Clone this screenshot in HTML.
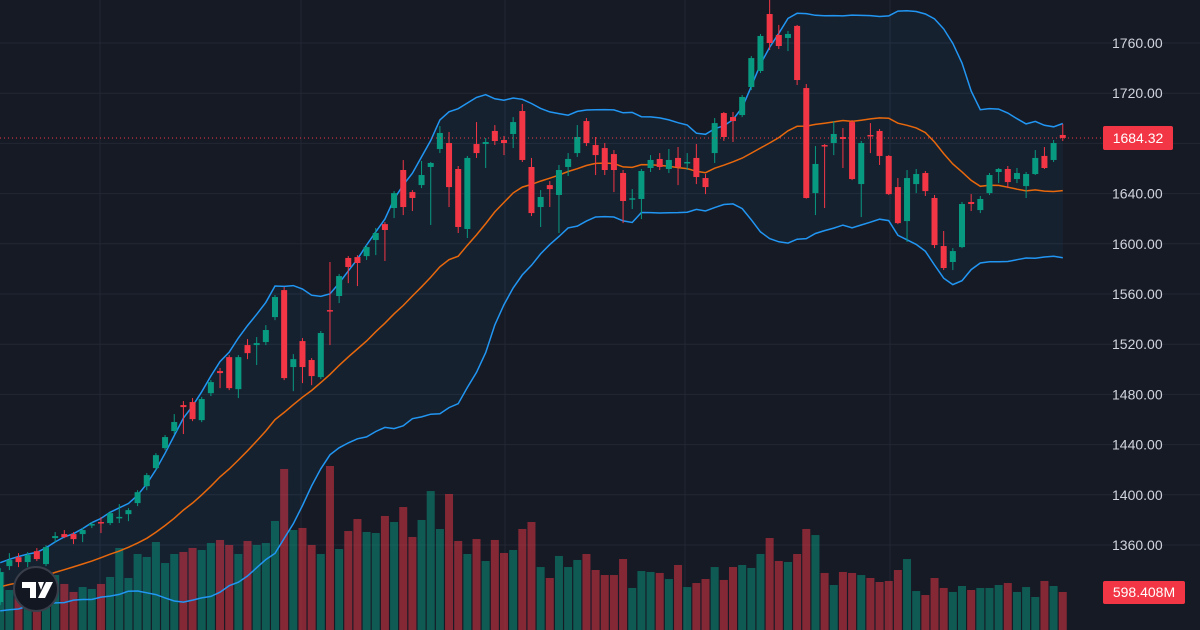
<!DOCTYPE html>
<html><head><meta charset="utf-8"><style>
html,body{margin:0;padding:0;background:#161a25;overflow:hidden}
svg{display:block;font-family:"Liberation Sans",sans-serif}
</style></head><body>
<svg id="chart" width="1200" height="630" viewBox="0 0 1200 630" xmlns="http://www.w3.org/2000/svg">
<rect width="1200" height="630" fill="#161a25"/>
<g id="grid"></g>
<g id="bands"></g>
<g id="vol"></g>
<g id="lines"></g>
<g id="candles"></g>
<g id="axis"></g>
<g>
<circle cx="36" cy="589" r="22" fill="#131722" stroke="#3a3e4a" stroke-width="2"/>
<path d="M22 582h14v16h-6v-10h-8z M38 582h6l-3 8z M46 582h7l-8 16h-7z" fill="#ffffff"/>
</g>
</svg>
<script>
const preCloses=[1312,1318,1309,1315,1321,1317,1323,1320,1326,1330,1324,1329,1333,1328,1335,1339,1334,1340,1343];
const opens=[1314.5,1343.2,1350.3,1346.4,1355.1,1344.8,1365.5,1368.7,1368.7,1368.7,1375.9,1378.3,1377.5,1381.6,1384.6,1393.4,1406.9,1421.3,1437.2,1450.8,1471.5,1473.9,1459.5,1481.0,1498.6,1509.7,1484.2,1519.3,1519.3,1521.7,1541.6,1563.1,1501.8,1522.5,1507.4,1493.8,1547.2,1558.4,1588.7,1589.4,1590.2,1603.0,1615.7,1628.5,1658.8,1641.2,1646.8,1661.2,1675.5,1680.3,1659.6,1611.8,1679.5,1679.5,1689.9,1682.7,1687.5,1705.8,1661.2,1629.3,1646.8,1638.9,1661.2,1672.3,1697.8,1678.7,1676.3,1671.5,1656.4,1635.7,1635.7,1660.4,1667.6,1659.6,1668.4,1664.7,1668.4,1652.4,1672.3,1704.2,1701.0,1702.6,1724.9,1737.7,1783.1,1766.4,1764.0,1773.6,1724.1,1640.4,1678.7,1680.3,1685.1,1697.0,1647.6,1686.7,1689.9,1670.0,1645.2,1618.1,1647.6,1656.4,1636.5,1598.2,1585.5,1597.4,1633.3,1626.9,1640.4,1657.2,1659.6,1651.6,1646.0,1655.6,1670.0,1666.8,1686.7];
const highs=[1341.6,1353.5,1353.5,1354.3,1357.5,1359.9,1370.3,1371.9,1370.3,1373.5,1378.3,1382.2,1387.0,1392.6,1389.4,1403.7,1417.3,1433.2,1447.6,1464.3,1474.7,1477.1,1477.9,1491.4,1501.0,1511.3,1511.3,1524.1,1525.7,1535.2,1559.2,1565.5,1512.1,1524.9,1508.9,1530.5,1585.5,1575.9,1590.2,1591.0,1599.0,1612.6,1617.3,1642.0,1666.7,1642.8,1666.0,1665.2,1693.8,1689.1,1662.0,1670.0,1697.0,1684.3,1694.6,1685.9,1701.0,1711.4,1668.4,1642.8,1650.0,1662.8,1672.3,1694.6,1700.2,1685.1,1680.3,1674.7,1658.8,1643.6,1659.6,1670.7,1672.3,1675.5,1677.1,1672.3,1679.5,1655.6,1700.2,1705.0,1705.0,1718.6,1749.6,1767.2,1794.3,1774.4,1769.6,1774.4,1727.3,1677.9,1679.5,1697.8,1692.2,1698.6,1681.9,1696.2,1691.5,1670.7,1652.4,1658.8,1659.6,1658.0,1638.9,1610.2,1596.6,1633.3,1639.6,1638.1,1656.4,1660.4,1662.0,1660.4,1657.2,1674.7,1677.1,1682.7,1695.4];
const lows=[1312.1,1340.0,1342.4,1342.4,1347.2,1343.2,1362.3,1365.5,1360.7,1362.3,1373.5,1369.5,1375.9,1377.5,1379.0,1391.0,1403.7,1419.7,1435.6,1448.4,1448.4,1458.7,1457.9,1478.7,1485.0,1483.4,1477.1,1508.1,1503.4,1519.3,1539.2,1491.4,1482.6,1489.0,1487.4,1492.2,1519.3,1552.8,1568.7,1566.3,1587.1,1591.0,1586.3,1620.5,1622.9,1626.1,1644.4,1615.0,1672.3,1629.3,1608.6,1604.6,1668.4,1660.4,1678.7,1670.7,1676.3,1665.2,1622.1,1613.4,1629.3,1608.6,1654.0,1669.2,1677.9,1654.8,1654.8,1641.2,1616.5,1627.7,1619.7,1657.2,1658.8,1656.4,1646.8,1658.8,1647.6,1639.6,1664.4,1682.0,1681.1,1701.0,1722.5,1736.1,1754.4,1755.2,1753.6,1726.5,1636.0,1622.9,1628.5,1670.7,1660.4,1650.8,1621.3,1672.3,1662.8,1638.9,1615.7,1601.4,1640.4,1638.1,1596.6,1579.1,1579.1,1596.6,1626.1,1624.5,1638.9,1648.4,1644.4,1648.4,1636.5,1654.8,1659.6,1665.2,1681.9];
const closes=[1338.4,1348.0,1346.4,1352.0,1348.8,1358.3,1367.1,1366.3,1364.7,1371.9,1376.7,1377.5,1385.4,1382.4,1387.8,1402.1,1415.7,1431.6,1446.0,1458.0,1469.9,1460.3,1476.3,1489.8,1497.0,1485.0,1509.7,1512.9,1520.9,1531.3,1557.6,1493.0,1508.1,1501.8,1494.6,1528.9,1546.4,1574.3,1581.5,1584.7,1597.4,1608.6,1611.0,1640.4,1629.3,1636.5,1654.8,1664.4,1688.3,1645.2,1613.4,1668.4,1672.3,1681.1,1681.9,1680.3,1697.0,1666.8,1624.5,1637.3,1643.6,1658.8,1667.6,1685.1,1680.3,1670.7,1658.8,1658.8,1634.1,1636.3,1658.0,1666.8,1661.2,1666.8,1661.2,1665.2,1653.2,1645.2,1696.2,1685.1,1697.8,1717.0,1748.0,1765.6,1760.0,1757.6,1767.2,1730.5,1636.5,1663.6,1677.9,1687.5,1683.5,1651.6,1680.3,1685.9,1670.0,1639.6,1616.5,1652.4,1655.6,1642.0,1599.0,1580.7,1594.2,1631.7,1631.7,1635.7,1654.8,1659.6,1649.2,1656.4,1655.6,1668.4,1660.4,1680.3,1684.32];
const volumes=[914,630,630,662,630,866,866,725,599,677,646,725,835,1292,819,1197,1150,1386,1055,1197,1229,1292,1260,1370,1418,1339,1197,1402,1339,1370,1717,2536,1575,1607,1339,1197,2583,1276,1559,1748,1544,1528,1796,1701,1937,1465,1733,2189,1591,2142,1402,1197,1433,1087,1418,1213,1260,1591,1701,992,819,1166,992,1103,1197,945,866,866,1118,662,929,914,898,803,1024,677,740,803,992,788,992,1024,977,1197,1449,1087,1071,1197,1591,1496,898,709,914,898,866,819,756,772,945,1118,614,551,819,662,599,693,630,662,662,709,740,599,677,520,772,693,598.408];
const priceTicks=[1760,1720,1680,1640,1600,1560,1520,1480,1440,1400,1360];
const tickLabels=["1760.00","1720.00","1680.00","1640.00","1600.00","1560.00","1520.00","1480.00","1440.00","1400.00","1360.00"];
const volLabel="598.408M";

const NS="http://www.w3.org/2000/svg";
const Y=p=>43+(1760-p)*1.255;
const X=i=>0.2+i*9.16;
const VH=v=>v/15.75;
const GREEN="#089981",RED="#f23645";
function mk(tag,attrs,parent){const e=document.createElementNS(NS,tag);for(const k in attrs)e.setAttribute(k,attrs[k]);parent.appendChild(e);return e;}
const grid=document.getElementById('grid');
priceTicks.concat([1800]).forEach(p=>{
  const l=mk('line',{x1:0,x2:1200,y1:Y(p),y2:Y(p),stroke:'#232733','stroke-width':1},grid);
  
  
});
[100,301,505,685,890].forEach(x=>{
  const l=mk('line',{x1:x,x2:x,y1:0,y2:630,stroke:'#232733','stroke-width':1},grid);
  
  
});
// Bollinger
const all=preCloses.concat(closes);const P=preCloses.length;
const mid=[],up=[],lo=[];
for(let i=0;i<closes.length;i++){
  const w=all.slice(i+P-19,i+P+1);const m=w.reduce((a,b)=>a+b,0)/w.length;
  const sd=Math.sqrt(w.reduce((a,b)=>a+(b-m)*(b-m),0)/w.length);
  mid.push(m);up.push(m+2*sd);lo.push(m-2*sd);
}
const pts=a=>a.map((v,i)=>X(i).toFixed(1)+','+Y(v).toFixed(1));
const bands=document.getElementById('bands');
const fill=mk('polygon',{points:pts(up).concat(pts(lo).reverse()).join(' '),fill:'rgba(33,150,243,0.06)'},bands);


// volume
const vol=document.getElementById('vol');
volumes.forEach((v,i)=>{
  const h=VH(v);
  const r=mk('rect',{x:X(i)-4,y:630-h,width:8,height:h,fill:closes[i]>=opens[i]?'rgba(8,153,129,0.5)':'rgba(242,54,69,0.5)'},vol);
  
  
});
const lines=document.getElementById('lines');
const lu=mk('polyline',{points:pts(up).join(' '),fill:'none',stroke:'#2196f3','stroke-width':1.5},lines);


const ll=mk('polyline',{points:pts(lo).join(' '),fill:'none',stroke:'#2196f3','stroke-width':1.5},lines);


const lm=mk('polyline',{points:pts(mid).join(' '),fill:'none',stroke:'#e8680c','stroke-width':1.5},lines);


// candles
const cg=document.getElementById('candles');
closes.forEach((c,i)=>{
  const o=opens[i],col=c>=o?GREEN:RED,x=X(i);
  const g=mk('g',{},cg);
  
  
  mk('line',{x1:x,x2:x,y1:Y(highs[i]),y2:Y(lows[i]),stroke:col,'stroke-width':1},g);
  const t=Math.min(Y(o),Y(c)),h=Math.max(1.5,Math.abs(Y(o)-Y(c)));
  mk('rect',{x:x-3,y:t,width:6,height:h,fill:col},g);
});
// axis
const ax=document.getElementById('axis');
priceTicks.forEach((p,i)=>{
  const t=mk('text',{x:1112,y:Y(p)+5,fill:'#d1d4dc','font-size':14},ax);
  t.textContent=tickLabels[i];
  
  
});
const last=closes[closes.length-1];
const dl=mk('line',{x1:0,x2:1103,y1:Y(last),y2:Y(last),stroke:RED,'stroke-width':1,'stroke-dasharray':'1,3'},ax);


const pb=mk('rect',{x:1103,y:Y(last)-12,width:70,height:24,rx:2,fill:RED},ax);


const pt=mk('text',{x:1138,y:Y(last)+5,fill:'#fff','font-size':14,'text-anchor':'middle'},ax);
pt.textContent=last.toFixed(2);


const vy=630-VH(volumes[volumes.length-1]);
const vb=mk('rect',{x:1103,y:vy-11,width:82,height:23,rx:2,fill:RED},ax);


const vt=mk('text',{x:1144,y:vy+5,fill:'#fff','font-size':14,'text-anchor':'middle'},ax);
vt.textContent=volLabel;


</script>
</body></html>
